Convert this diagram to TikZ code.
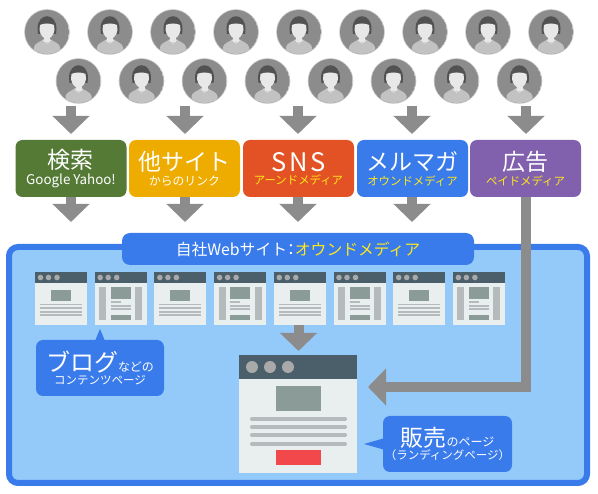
\documentclass[tikz,border=0pt]{standalone}
\usepackage{fontspec}
\setmainfont{Noto Sans CJK JP}
\usetikzlibrary{arrows.meta,positioning,calc}
\definecolor{arrgray}{HTML}{8C8C8C}
\definecolor{sitefill}{HTML}{94CAF9}
\definecolor{siteblue}{HTML}{3A7BEB}
\definecolor{srcgreen}{HTML}{547A36}
\definecolor{srcamber}{HTML}{EFAC00}
\definecolor{srcorange}{HTML}{E35224}
\definecolor{srcpurple}{HTML}{8161AE}
\definecolor{owned}{HTML}{FFE81A}
\definecolor{pagehead}{HTML}{4B5F6B}
\definecolor{pagebody}{HTML}{E9EEEF}
\definecolor{pageimg}{HTML}{8A9B98}
\definecolor{pageline}{HTML}{B5BABD}
\definecolor{pagedot}{HTML}{A9A9A9}
\definecolor{pagered}{HTML}{F2474B}
\newcommand{\fs}[1]{\fontsize{#1}{#1}\selectfont}
\tikzset{
  src/.style={rectangle, rounded corners=7pt, minimum width=111pt, minimum height=57pt, inner sep=0pt, text=white, align=center},
  barr/.style={-{Triangle[length=18pt,width=36pt]}, line width=10pt, draw=arrgray},
  bub/.style={fill=siteblue, rounded corners=7pt, text=white, align=center, inner sep=0pt},
  person/.pic={
    \fill[black!22] (0,0) circle (22.8);
    \begin{scope}
      \clip (0,0) circle (22);
      \fill[arrgray] (0,0) circle (22);
      \fill[black!24] (-13,23) -- (-13,15) .. controls (-12,11) and (-7,10) .. (-3,7) -- (3,7) .. controls (7,10) and (12,11) .. (13,15) -- (13,23) -- cycle;
      \draw[black!10, line width=.5pt] (-4,8) -- (0,11.5) -- (4,8);
      \fill[black!68] (-9.5,-3) .. controls (-9.5,-20) and (9.5,-20) .. (9.5,-3) -- (9,2) -- (-9,2) -- cycle;
      \fill[black!9] (-3,4) rectangle (3,10);
      \fill[black!9] (-7,-7) .. controls (-3,-9) and (3,-9) .. (7,-7) -- (7.5,-2) .. controls (7,3) and (3,7) .. (0,7) .. controls (-3,7) and (-7,3) .. (-7.5,-2) -- cycle;
    \end{scope}
  },
  pagea/.pic={
    \fill[pagebody] (0,0) rectangle (52,53);
    \fill[pagehead] (0,0) rectangle (52,11);
    \foreach \x in {5.5,13.5,22} \fill[pagedot] (\x,5.5) circle (2.8);
    \fill[pageimg] (16,18.5) rectangle (36,29);
    \foreach \y in {32.5,36,39.7,43.3} \draw[pageline, line width=1.7pt] (5,\y) -- (47,\y);
  },
  pageb/.pic={
    \fill[pagebody] (0,0) rectangle (52,53);
    \fill[pagehead] (0,0) rectangle (52,11);
    \foreach \x in {5.5,13.5,22} \fill[pagedot] (\x,5.5) circle (2.8);
    \fill[pageline] (4.5,15.5) rectangle (11.5,48);
    \fill[pageline] (40.5,15.5) rectangle (47.5,48);
    \fill[pageimg] (16,15.5) rectangle (36,26.7);
    \fill[pageimg] (16,42.7) rectangle (36,48);
    \draw[pageline, line width=1.7pt] (16,29.7) -- (26,29.7);
    \foreach \y in {33.7,37} \draw[pageline, line width=1.7pt] (16,\y) -- (36,\y);
  }
}

\begin{document}
\begin{tikzpicture}[x=1pt,y=-1pt]
\useasboundingbox (0,0) rectangle (598,494);
% people
\foreach \i in {0,...,8} \pic at ({47+63*\i},32) {person};
\foreach \i in {0,...,7} \pic at ({78.5+63*\i},81) {person};
% site frame
\node[draw=siteblue, fill=sitefill, line width=6pt, rounded corners=9pt, minimum width=578pt, minimum height=236pt, inner sep=0pt] (site) at (298,365) {};
\node[fill=siteblue, rounded corners=8pt, minimum width=352pt, minimum height=32pt, inner sep=0pt, text=white] (title) at (298,249) {\fs{15.8}自社Webサイト\hspace{-4pt}：\hspace{-4pt}\textcolor{owned}{オウンドメディア}};
% sources
\node[src, fill=srcgreen] (b1) at (71,168.5) {\fs{23}検索\\[3pt]\fs{13.4}Google Yahoo!};
\node[src, fill=srcamber] (b2) at (184.5,168.5) {\fs{23}他サイト\\[3pt]\fs{11.8}からのリンク};
\node[src, fill=srcorange] (b3) at (298.5,168.5) {\fs{25.5}S\hspace{2.5pt}N\hspace{2.5pt}S\\[1pt]\fs{11.4}\textcolor{owned}{アーンドメディア}};
\node[src, fill=siteblue] (b4) at (412.5,168.5) {\fs{23}メルマガ\\[3pt]\fs{11.4}\textcolor{owned}{オウンドメディア}};
\node[src, fill=srcpurple] (b5) at (525.5,168.5) {\fs{23}広告\\[3pt]\fs{11.4}\textcolor{owned}{ペイドメディア}};
% pages
\foreach \i in {0,2,4,6} \pic at ({35+59.7*\i},272) {pagea};
\foreach \i in {1,3,5,7} \pic at ({35+59.7*\i},272) {pageb};
% landing page
\node[fill=pagebody, minimum width=118pt, minimum height=118pt, inner sep=0pt] (lp) at (298,414) {};
\node[fill=pagehead, minimum width=118pt, minimum height=24pt, inner sep=0pt, below=0pt of lp.north] (lphead) {};
\foreach \x in {252,270,288} \fill[pagedot] (\x,367) circle (6);
\fill[pageimg] (276,386) rectangle (321,411);
\foreach \y in {419,427,435,444} \draw[pageline, line width=4pt, line cap=round] (252,\y) -- (345,\y);
\fill[pagered] (276,450) rectangle (321,465);
% arrows
\foreach \x/\b in {71/b1,185/b2,298/b3,412/b4,526/b5} {
  \coordinate (top\b) at (\x,106);
  \coordinate (tip\b) at (\x,134);
  \draw[barr] (top\b) -- (tip\b);
}
\foreach \x/\b in {71/b1,185/b2,298/b3,412/b4} {
  \coordinate (low\b) at (\x,222);
  \draw[barr] (\b.south -| low\b) -- (low\b);
}
\coordinate (adtip) at (368,387);
\draw[barr] (b5.south) |- (adtip);
\coordinate (lptop) at (298.5,351);
\draw[barr] (298.5,325) -- (lptop);
% callouts
\node[bub, minimum width=128pt, minimum height=56pt] (bub1) at (100,368) {\fs{24}ブログ\fs{12}などの\\[1pt]\fs{11.5}コンテンツページ};
\fill[siteblue] (95,341) -- (100,329) -- (105,341) -- cycle;
\node[bub, minimum width=129pt, minimum height=56pt] (bub2) at (447.5,444) {\fs{23}販売\fs{12}のページ\\[1pt]\fs{11.5}（ランディングページ）};
\fill[siteblue] (385,438) -- (364,444) -- (385,450) -- cycle;
\end{tikzpicture}
\end{document}
